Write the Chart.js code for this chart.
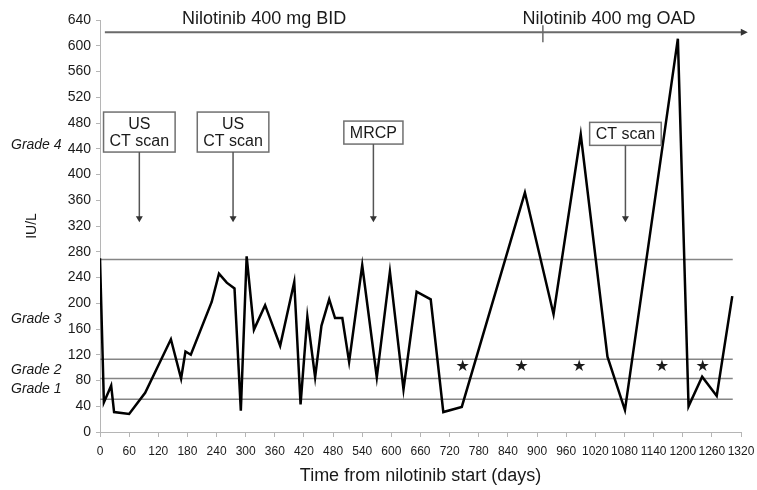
<!DOCTYPE html>
<html>
<head>
<meta charset="utf-8">
<script src="https://cdn.jsdelivr.net/npm/chart.js@4.4.1/dist/chart.umd.min.js"></script>
<style>
  html, body { margin: 0; padding: 0; background: #fff; }
  #wrap { width: 757px; height: 490px; }
</style>
</head>
<body>
<div id="wrap"><canvas id="chart"></canvas></div>
<script>
// lab values (IU/L) by day from nilotinib start
const days = [0, 8, 23, 29, 60, 93, 146, 167, 176, 187, 230, 245, 261, 277, 290, 302, 317, 340, 371,
  400, 413, 427, 443, 456, 472, 484, 499, 513, 540, 570, 597, 625, 652, 681, 707, 745,
  875, 934, 990, 1045, 1081, 1190, 1212, 1240, 1270, 1302];
const iuPerL = [270, 46, 72, 31, 28, 61, 144, 83, 125, 120, 202, 246, 232, 223, 33, 273, 159, 197, 134,
  233, 43, 179, 85, 165, 206, 177, 177, 109, 259, 85, 249, 66, 218, 206, 31, 39,
  372, 183, 462, 117, 34, 611, 40, 86, 56, 211];

const xTickValues = [0, 60, 120, 180, 240, 300, 360, 420, 480, 540, 600, 660, 720, 780, 840, 900,
  960, 1020, 1080, 1140, 1200, 1260, 1320];
const yTickValues = [0, 40, 80, 120, 160, 200, 240, 280, 320, 360, 400, 440, 480, 520, 560, 600, 640];

// grade thresholds
const gradeLevels = [51, 83, 113, 268];
const gradeNames = ['Grade 1', 'Grade 2', 'Grade 3', 'Grade 4'];
const gradeLabelLevels = [67, 96, 175, 446];
const gradeLineEnd = 1303;

// asterisks
const starDays = [747, 868, 987, 1157, 1241];
const starLevel = 101;

// imaging events
const eventDays = [81, 274, 563, 1082];
const eventLabels = [['US', 'CT scan'], ['US', 'CT scan'], ['MRCP'], ['CT scan']];
const eventBoxTop = [497, 497, 483, 481];
const arrowTipLevel = 326;

// treatment phases
const phaseNames = ['Nilotinib 400 mg BID', 'Nilotinib 400 mg OAD'];
const phaseLabelDays = [338, 1048];
const phaseLabelLevel = 642;
const phaseLineLevel = 621;
const phaseLineStart = 10;
const phaseLineEnd = 1334;
const phaseSwitchDay = 912;

const FONT = '"Liberation Sans", Arial, Helvetica, sans-serif';
const INK = '#1a1a1a';

function arrowDown(ctx, x, yTip) {
  ctx.beginPath();
  ctx.moveTo(x - 3.5, yTip - 6);
  ctx.lineTo(x + 3.5, yTip - 6);
  ctx.lineTo(x, yTip);
  ctx.closePath();
  ctx.fill();
}

const annotations = {
  id: 'annotations',
  afterDatasetsDraw(chart) {
    const { ctx, scales: { x, y } } = chart;
    ctx.save();

    // grade labels in the left margin
    ctx.fillStyle = INK;
    ctx.font = 'italic 14px ' + FONT;
    ctx.textAlign = 'left';
    ctx.textBaseline = 'middle';
    gradeNames.forEach((g, i) => ctx.fillText(g, 11, y.getPixelForValue(gradeLabelLevels[i])));

    // asterisks
    ctx.font = '16px "DejaVu Sans", sans-serif';
    ctx.textAlign = 'center';
    starDays.forEach(d => ctx.fillText('\u2605', x.getPixelForValue(d), y.getPixelForValue(starLevel)));

    // treatment line with arrow
    const py = y.getPixelForValue(phaseLineLevel);
    const x0 = x.getPixelForValue(phaseLineStart);
    const x1 = x.getPixelForValue(phaseLineEnd);
    ctx.strokeStyle = '#6a6a6a';
    ctx.fillStyle = '#333';
    ctx.lineWidth = 2;
    ctx.beginPath();
    ctx.moveTo(x0, py);
    ctx.lineTo(x1 - 5, py);
    ctx.stroke();
    ctx.beginPath();
    ctx.moveTo(x1 - 7, py - 3.5);
    ctx.lineTo(x1, py);
    ctx.lineTo(x1 - 7, py + 3.5);
    ctx.closePath();
    ctx.fill();
    const sx = x.getPixelForValue(phaseSwitchDay);
    ctx.lineWidth = 1.5;
    ctx.beginPath();
    ctx.moveTo(sx, py - 7);
    ctx.lineTo(sx, py + 10);
    ctx.stroke();

    ctx.fillStyle = INK;
    ctx.font = '18px ' + FONT;
    phaseNames.forEach((p, i) =>
      ctx.fillText(p, x.getPixelForValue(phaseLabelDays[i]), y.getPixelForValue(phaseLabelLevel)));

    // event boxes and arrows
    const lineH = 17;
    ctx.font = '16px ' + FONT;
    eventDays.forEach((d, i) => {
      const lines = eventLabels[i];
      const cx = x.getPixelForValue(d);
      const top = y.getPixelForValue(eventBoxTop[i]);
      const w = Math.max(...lines.map(t => ctx.measureText(t).width)) + 12;
      const h = lines.length * lineH + 6;
      ctx.fillStyle = '#fff';
      ctx.fillRect(cx - w / 2, top, w, h);
      ctx.strokeStyle = '#707070';
      ctx.lineWidth = 1.5;
      ctx.strokeRect(cx - w / 2, top, w, h);
      ctx.fillStyle = INK;
      lines.forEach((t, j) => ctx.fillText(t, cx, top + 4 + lineH * (j + 0.5)));
      const tip = y.getPixelForValue(arrowTipLevel);
      ctx.strokeStyle = '#555';
      ctx.beginPath();
      ctx.moveTo(cx, top + h);
      ctx.lineTo(cx, tip - 5);
      ctx.stroke();
      ctx.fillStyle = '#333';
      arrowDown(ctx, cx, tip);
    });

    ctx.restore();
  }
};

const points = days.map((d, i) => ({ x: d, y: iuPerL[i] }));
const gradeSets = gradeLevels.map(v => ({
  data: [{ x: 0, y: v }, { x: gradeLineEnd, y: v }],
  borderColor: '#858585',
  borderWidth: 1.5,
  pointRadius: 0
}));

new Chart(document.getElementById('chart'), {
  type: 'line',
  data: {
    datasets: [{
      data: points,
      borderColor: '#000',
      borderWidth: 2.5,
      pointRadius: 0,
      tension: 0,
      borderJoinStyle: 'miter'
    }, ...gradeSets]
  },
  options: {
    responsive: true,
    maintainAspectRatio: false,
    animation: false,
    layout: { padding: { top: 20, right: 16, left: 0, bottom: 0 } },
    plugins: { legend: { display: false }, tooltip: { enabled: false } },
    scales: {
      x: {
        type: 'linear',
        min: 0,
        max: 1320,
        afterBuildTicks: s => { s.ticks = xTickValues.map(v => ({ value: v })); },
        afterFit: s => { s.height = 58; s.paddingLeft = 0; s.paddingRight = 0; },
        ticks: {
          autoSkip: false,
          maxRotation: 0,
          padding: 7,
          color: INK,
          font: { family: FONT, size: 12 },
          callback: v => String(v)
        },
        grid: { drawOnChartArea: false, tickLength: 5, color: '#b5b5b5' },
        border: { color: '#b5b5b5' },
        title: {
          display: true,
          text: 'Time from nilotinib start (days)',
          color: INK,
          font: { family: FONT, size: 18 },
          padding: { top: 0, bottom: 3 }
        }
      },
      y: {
        min: 0,
        max: 640,
        afterBuildTicks: s => { s.ticks = yTickValues.map(v => ({ value: v })); },
        afterFit: s => { s.width = 100; s.paddingTop = 0; s.paddingBottom = 0; },
        ticks: {
          autoSkip: false,
          padding: 5,
          color: INK,
          font: { family: FONT, size: 14 },
          callback: v => String(v)
        },
        grid: { drawOnChartArea: false, tickLength: 4, color: '#b5b5b5' },
        border: { color: '#b5b5b5' },
        title: {
          display: true,
          text: 'IU/L',
          color: INK,
          font: { family: FONT, size: 14 },
          padding: { top: 24, bottom: 0 }
        }
      }
    }
  },
  plugins: [annotations]
});
</script>
</body>
</html>
